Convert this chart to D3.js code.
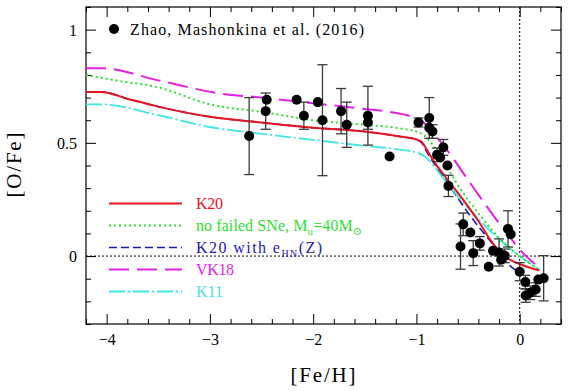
<!DOCTYPE html>
<html><head><meta charset="utf-8">
<script src="https://cdn.jsdelivr.net/npm/d3@7/dist/d3.min.js"></script>
<style>body{margin:0;background:#fff}svg{display:block}</style>
</head><body>
<script>
// ---- tick values ----
const xMajorTicks = [-4, -3, -2, -1, 0];
const yMajorTicks = [0, 0.5, 1];
const xTickLabels = ["\u22124", "\u22123", "\u22122", "\u22121", "0"];
const yTickLabels = ["0", "0.5", "1"];

// ---- observations: Zhao, Mashonkina et al. (2016) ----
const obsFe  = [-2.62,-2.45,-2.46,-2.16,-2.09,-1.955,-1.91,-1.73,-1.675,-1.47,-1.47,-1.26,
                -0.98,-0.876,-0.876,-0.845,-0.74,-0.80,-0.77,-0.70,-0.69,
                -0.547,-0.573,-0.478,-0.45,-0.386,-0.30,-0.258,-0.20,-0.18,-0.145,-0.113,-0.087,
                0.0,0.055,0.058,0.103,0.155,0.18,0.232];
const obsOFe = [0.53,0.69,0.64,0.69,0.62,0.68,0.60,0.64,0.58,0.62,0.59,0.44,
                0.59,0.61,0.567,0.55,0.48,0.447,0.435,0.40,0.31,
                0.14,0.042,0.104,0.013,0.056,-0.047,0.023,0.016,-0.016,0.001,0.12,0.096,
                -0.069,-0.115,-0.174,-0.162,-0.148,-0.104,-0.098];
const obsErr = [0.17,0,0.08,0,0.06,0,0.245,0.10,0.10,0.13,0.03,0,
                0.02,0.09,0,0.03,0.035,0.03,0,0,0.047,
                0.05,0.10,0,0.055,0.03,0,0,0.06,0,0.03,0.08,0,
                0.04,0.03,0.03,0.03,0.03,0,0.10];

// ---- model curves ----
const k20Fe  = [-4.2,-4.05,-3.8,-3.5,-3.0,-2.5,-2.0,-1.5,-1.16,-1.0,-0.95,-0.9,-0.84,-0.7,-0.55,-0.39,-0.29,-0.13,0.0,0.19];
const k20OFe = [0.725,0.725,0.695,0.66,0.615,0.59,0.567,0.55,0.528,0.515,0.505,0.47,0.425,0.338,0.25,0.148,0.075,-0.006,-0.035,-0.064];

const noFailFe  = [-4.2,-3.9,-3.5,-3.0,-2.5,-2.0,-1.5,-1.16,-1.0,-0.93,-0.84,-0.7,-0.58,-0.4,-0.2,0.0,0.19];
const noFailOFe = [0.80,0.775,0.745,0.67,0.637,0.60,0.58,0.564,0.55,0.535,0.49,0.39,0.30,0.19,0.08,0.0,-0.06];

const hnFe  = [-4.2,-4.05,-3.8,-3.5,-3.0,-2.5,-2.0,-1.5,-1.16,-1.0,-0.95,-0.9,-0.8,-0.7,-0.58,-0.45,-0.3,-0.1,0.02];
const hnOFe = [0.725,0.725,0.695,0.66,0.615,0.59,0.567,0.55,0.528,0.515,0.50,0.46,0.39,0.325,0.243,0.16,0.075,-0.04,-0.08];

const vk18Fe  = [-4.2,-4.05,-3.5,-2.9,-2.5,-2.0,-1.55,-1.14,-1.0,-0.93,-0.85,-0.74,-0.48,-0.36,-0.13,0.06,0.19];
const vk18OFe = [0.83,0.83,0.776,0.718,0.70,0.675,0.652,0.627,0.61,0.59,0.55,0.49,0.323,0.245,0.104,0.0,-0.05];

const k11Fe  = [-4.2,-4.05,-3.5,-3.0,-2.5,-2.0,-1.5,-1.16,-0.98,-0.92,-0.87,-0.75,-0.6,-0.4,-0.2,0.0,0.19];
const k11OFe = [0.67,0.67,0.622,0.57,0.54,0.513,0.487,0.47,0.455,0.44,0.418,0.35,0.265,0.165,0.075,0.0,-0.06];

const seriesNames = ["K20", "no failed SNe", "K20 with e_HN(Z)", "VK18", "K11"];
const obsLabel = "Zhao, Mashonkina et al. (2016)";

// ---- layout ----
const W = 570, H = 391;
const L = 86, R = 561, T = 7, B = 324;
const svg = d3.select("body").append("svg").attr("width", W).attr("height", H);
const x = d3.scaleLinear().domain([-4.2, 0.4]).range([L, R]);
const y = d3.scaleLinear().domain([-0.3, 1.1]).range([B, T]);
const font = "'Liberation Serif', 'DejaVu Serif', serif";

svg.append("defs").append("clipPath").attr("id", "clip")
  .append("rect").attr("x", L).attr("y", T).attr("width", R - L).attr("height", B - T);

// minor/major ticks
const xMinor = d3.range(-4.2, 0.41, 0.2).map(v => +v.toFixed(2)).filter(v => !xMajorTicks.some(m => Math.abs(m - v) < 1e-6));
const yMinor = d3.range(-0.3, 1.11, 0.1).map(v => +v.toFixed(2)).filter(v => !yMajorTicks.some(m => Math.abs(m - v) < 1e-6));

function axisGroup(axisFn, scale, vals, size, tx, ty, fmt) {
  const a = axisFn(scale).tickValues(vals).tickSize(size).tickPadding(8);
  if (fmt) a.tickFormat(fmt); else a.tickFormat("");
  const g = svg.append("g").attr("transform", `translate(${tx},${ty})`).call(a);
  g.select(".domain").remove();
  g.selectAll("line").attr("stroke", "#000").attr("stroke-width", 1);
  return g;
}
const xFmt = (d) => xTickLabels[xMajorTicks.indexOf(d)];
const yFmt = (d) => yTickLabels[yMajorTicks.indexOf(d)];

const gxb = axisGroup(d3.axisBottom, x, xMajorTicks, -10, 0, B, xFmt);
gxb.selectAll("text").attr("font-family", font).attr("font-size", 16).attr("fill", "#000").attr("dy", "0").attr("y", 21);
axisGroup(d3.axisBottom, x, xMinor, -5, 0, B);
axisGroup(d3.axisTop, x, xMajorTicks, -10, 0, T);
axisGroup(d3.axisTop, x, xMinor, -5, 0, T);
const gyl = axisGroup(d3.axisLeft, y, yMajorTicks, -10, L, 0, yFmt);
gyl.selectAll("text").attr("font-family", font).attr("font-size", 16).attr("fill", "#000").attr("x", -9).attr("dy", "0.35em");
axisGroup(d3.axisLeft, y, yMinor, -5, L, 0);
axisGroup(d3.axisRight, y, yMajorTicks, -10, R, 0);
axisGroup(d3.axisRight, y, yMinor, -5, R, 0);

// frame
svg.append("rect").attr("x", L).attr("y", T).attr("width", R - L).attr("height", B - T)
  .attr("fill", "none").attr("stroke", "#000").attr("stroke-width", 1.2);

// zero lines
const plot = svg.append("g").attr("clip-path", "url(#clip)");
plot.append("line").attr("x1", L).attr("x2", R).attr("y1", y(0)).attr("y2", y(0))
  .attr("stroke", "#000").attr("stroke-width", 1).attr("stroke-dasharray", "2,2");
plot.append("line").attr("x1", x(0)).attr("x2", x(0)).attr("y1", T).attr("y2", B)
  .attr("stroke", "#000").attr("stroke-width", 1).attr("stroke-dasharray", "2,2");

// model curves
const styles = [
  {fe: hnFe,     o: hnOFe,     color: "#1a1ab8", w: 1.6, dash: "8,4"},
  {fe: k11Fe,    o: k11OFe,    color: "#3ee6e6", w: 1.8, dash: "16,3,2,3"},
  {fe: noFailFe, o: noFailOFe, color: "#2ee02e", w: 2,   dash: "2,3"},
  {fe: vk18Fe,   o: vk18OFe,   color: "#e51ee5", w: 2,   dash: "20,8"},
  {fe: k20Fe,    o: k20OFe,    color: "#e8141e", w: 2,   dash: null}
];
const line = d3.line().curve(d3.curveMonotoneX);
styles.forEach(s => {
  const pts = s.fe.map((v, i) => [x(v), y(s.o[i])]);
  const p = plot.append("path").attr("d", line(pts)).attr("fill", "none")
    .attr("stroke", s.color).attr("stroke-width", s.w);
  if (s.dash) p.attr("stroke-dasharray", s.dash);
});

// error bars and points
const obs = obsFe.map((v, i) => ({fe: v, o: obsOFe[i], e: obsErr[i]}));
const eb = plot.append("g").attr("stroke", "#3a3a3a").attr("stroke-width", 1.3);
obs.filter(d => d.e > 0).forEach(d => {
  const cx = x(d.fe), y1 = y(d.o + d.e), y2 = y(d.o - d.e);
  eb.append("line").attr("x1", cx).attr("x2", cx).attr("y1", y1).attr("y2", y2);
  eb.append("line").attr("x1", cx - 5).attr("x2", cx + 5).attr("y1", y1).attr("y2", y1);
  eb.append("line").attr("x1", cx - 5).attr("x2", cx + 5).attr("y1", y2).attr("y2", y2);
});
plot.append("g").selectAll("circle").data(obs).join("circle")
  .attr("cx", d => x(d.fe)).attr("cy", d => y(d.o)).attr("r", 5).attr("fill", "#000");

// top legend
svg.append("circle").attr("cx", 114).attr("cy", 29).attr("r", 5).attr("fill", "#000");
svg.append("text").attr("x", 130).attr("y", 35).attr("font-family", font).attr("font-size", 16)
  .attr("textLength", 234).attr("lengthAdjust", "spacing").text(obsLabel);

// series legend
const legColors = ["#e8141e", "#2ee02e", "#1a1ab8", "#e51ee5", "#3ee6e6"];
const legDash = [null, "2,3", "8,4", "20,8", "16,3,2,3"];
const legW = [2, 2, 1.6, 2, 1.8];
const legTextWidth = [27, 166, 126, 38, 27];
seriesNames.forEach((name, i) => {
  const by = 209 + i * 22;
  const ln = svg.append("line").attr("x1", 109).attr("x2", 182).attr("y1", by - 5.5).attr("y2", by - 5.5)
    .attr("stroke", legColors[i]).attr("stroke-width", legW[i]);
  if (legDash[i]) ln.attr("stroke-dasharray", legDash[i]);
  const t = svg.append("text").attr("x", 196).attr("y", by).attr("font-family", font)
    .attr("font-size", 16).attr("fill", legColors[i]);
  if (i === 1) {
    t.append("tspan").text(name + ", M");
    t.append("tspan").attr("font-size", 11).attr("dy", 4).text("u");
    t.append("tspan").attr("dy", -4).text("=40M");
    t.append("tspan").attr("font-size", 11).attr("dy", 4).text("\u2299");
  } else if (i === 2) {
    t.append("tspan").text("K20 with e");
    t.append("tspan").attr("font-size", 10).attr("dy", 4).text("HN");
    t.append("tspan").attr("dy", -4).text("(Z)");
  } else {
    t.text(name);
  }
  t.attr("textLength", legTextWidth[i]).attr("lengthAdjust", "spacing");
});

// axis titles
svg.append("text").attr("x", 323).attr("y", 382).attr("text-anchor", "middle")
  .attr("font-family", font).attr("font-size", 21).attr("textLength", 65).attr("lengthAdjust", "spacing").text("[Fe/H]");
svg.append("text").attr("transform", "translate(21,165) rotate(-90)").attr("text-anchor", "middle")
  .attr("font-family", font).attr("font-size", 21).attr("textLength", 65).attr("lengthAdjust", "spacing").text("[O/Fe]");
</script>
</body></html>
